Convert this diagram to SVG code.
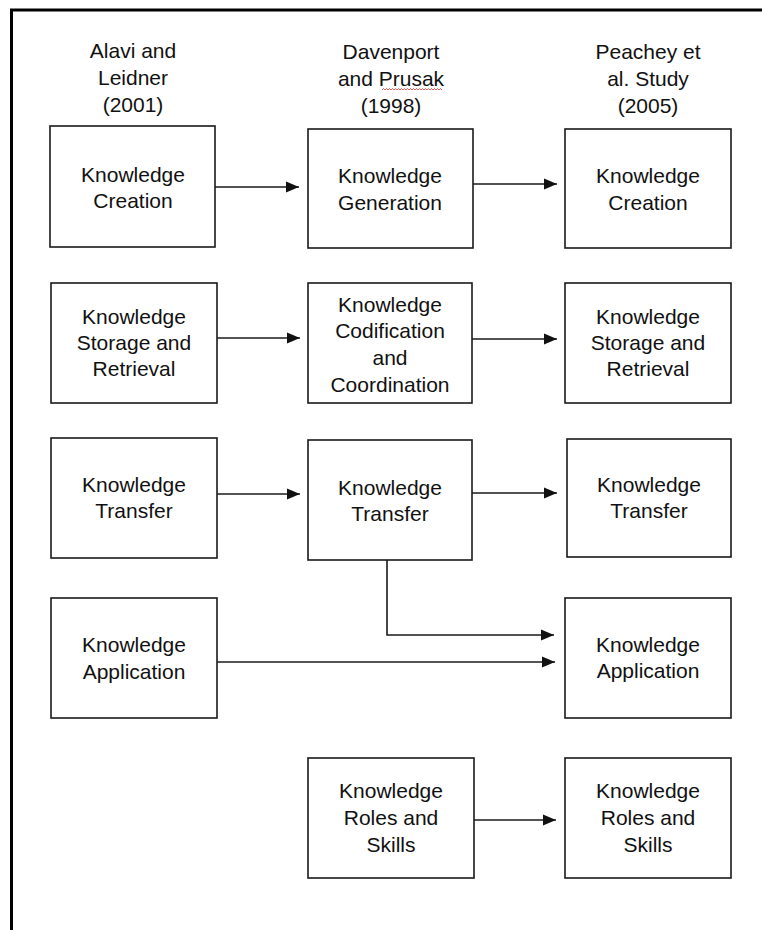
<svg xmlns="http://www.w3.org/2000/svg" width="762" height="930" viewBox="0 0 762 930">
<defs>
<style>
.box{fill:#fff;stroke:#1a1a1a;stroke-width:1.6}
.t{font-family:"Liberation Sans",Arial,sans-serif;font-size:21px;fill:#111;text-anchor:middle}
.c{fill:none;stroke:#1a1a1a;stroke-width:1.6}
.frame{fill:none;stroke:#000;stroke-width:3}
</style>
<marker id="ah" markerUnits="userSpaceOnUse" markerWidth="13" markerHeight="12" refX="13" refY="6" orient="auto">
<polygon points="0,0.5 13,6 0,11.5" fill="#111"/>
</marker>
</defs>
<rect width="762" height="930" fill="#fff"/>
<g id="frame">
<line class="frame" x1="10" y1="10" x2="762" y2="10"/>
<line class="frame" x1="11.5" y1="9" x2="11.5" y2="930"/>
</g>
<g id="headers">
<text class="t" x="133" y="58">Alavi and</text>
<text class="t" x="133" y="85">Leidner</text>
<text class="t" x="133" y="112">(2001)</text>
<text class="t" x="391" y="59">Davenport</text>
<text class="t" x="391" y="86">and Prusak</text>
<text class="t" x="391" y="113">(1998)</text>
<path d="M382,90 l1.5,-1.5 l1.5,1.5 l1.5,-1.5 l1.5,1.5 l1.5,-1.5 l1.5,1.5 l1.5,-1.5 l1.5,1.5 l1.5,-1.5 l1.5,1.5 l1.5,-1.5 l1.5,1.5 l1.5,-1.5 l1.5,1.5 l1.5,-1.5 l1.5,1.5 l1.5,-1.5 l1.5,1.5 l1.5,-1.5 l1.5,1.5 l1.5,-1.5 l1.5,1.5 l1.5,-1.5 l1.5,1.5 l1.5,-1.5 l1.5,1.5 l1.5,-1.5 l1.5,1.5 l1.5,-1.5 l1.5,1.5 l1.5,-1.5 l1.5,1.5 l1.5,-1.5 l1.5,1.5 l1.5,-1.5 l1.5,1.5 l1.5,-1.5 l1.5,1.5 l1.5,-1.5 l1.5,1.5" fill="none" stroke="#e03030" stroke-width="0.8"/>
<text class="t" x="648" y="59">Peachey et</text>
<text class="t" x="648" y="86">al. Study</text>
<text class="t" x="648" y="113">(2005)</text>
</g>
<g id="a1"><rect class="box" x="50" y="126" width="165" height="121"/><text class="t" x="133" y="182">Knowledge</text><text class="t" x="133" y="208">Creation</text></g>
<g id="b1"><rect class="box" x="308" y="129" width="165" height="119"/><text class="t" x="390" y="183">Knowledge</text><text class="t" x="390" y="210">Generation</text></g>
<g id="c1"><rect class="box" x="565" y="129" width="166" height="119"/><text class="t" x="648" y="183">Knowledge</text><text class="t" x="648" y="210">Creation</text></g>
<g id="a2"><rect class="box" x="51" y="283" width="166" height="120"/><text class="t" x="134" y="324">Knowledge</text><text class="t" x="134" y="350">Storage and</text><text class="t" x="134" y="376">Retrieval</text></g>
<g id="b2"><rect class="box" x="308" y="283" width="164" height="120"/><text class="t" x="390" y="312">Knowledge</text><text class="t" x="390" y="338">Codification</text><text class="t" x="390" y="365">and</text><text class="t" x="390" y="392">Coordination</text></g>
<g id="c2"><rect class="box" x="565" y="283" width="166" height="120"/><text class="t" x="648" y="324">Knowledge</text><text class="t" x="648" y="350">Storage and</text><text class="t" x="648" y="376">Retrieval</text></g>
<g id="a3"><rect class="box" x="51" y="438" width="166" height="120"/><text class="t" x="134" y="492">Knowledge</text><text class="t" x="134" y="518">Transfer</text></g>
<g id="b3"><rect class="box" x="308" y="440" width="164" height="120"/><text class="t" x="390" y="495">Knowledge</text><text class="t" x="390" y="521">Transfer</text></g>
<g id="c3"><rect class="box" x="567" y="439" width="164" height="118"/><text class="t" x="649" y="492">Knowledge</text><text class="t" x="649" y="518">Transfer</text></g>
<g id="a4"><rect class="box" x="51" y="598" width="166" height="120"/><text class="t" x="134" y="652">Knowledge</text><text class="t" x="134" y="679">Application</text></g>
<g id="c4"><rect class="box" x="565" y="598" width="166" height="120"/><text class="t" x="648" y="652">Knowledge</text><text class="t" x="648" y="678">Application</text></g>
<g id="b5"><rect class="box" x="308" y="758" width="166" height="120"/><text class="t" x="391" y="798">Knowledge</text><text class="t" x="391" y="825">Roles and</text><text class="t" x="391" y="852">Skills</text></g>
<g id="c5"><rect class="box" x="565" y="758" width="166" height="120"/><text class="t" x="648" y="798">Knowledge</text><text class="t" x="648" y="825">Roles and</text><text class="t" x="648" y="852">Skills</text></g>
<g id="connectors">
<line class="c" x1="215" y1="187" x2="299" y2="187" marker-end="url(#ah)"/>
<line class="c" x1="473" y1="184" x2="557" y2="184" marker-end="url(#ah)"/>
<line class="c" x1="217" y1="338" x2="300" y2="338" marker-end="url(#ah)"/>
<line class="c" x1="472" y1="339" x2="557" y2="339" marker-end="url(#ah)"/>
<line class="c" x1="217" y1="494" x2="300" y2="494" marker-end="url(#ah)"/>
<line class="c" x1="472" y1="493" x2="557" y2="493" marker-end="url(#ah)"/>
<polyline class="c" points="387,560 387,635 554,635" marker-end="url(#ah)"/>
<line class="c" x1="217" y1="662" x2="555" y2="662" marker-end="url(#ah)"/>
<line class="c" x1="474" y1="820" x2="556" y2="820" marker-end="url(#ah)"/>
</g>
</svg>
